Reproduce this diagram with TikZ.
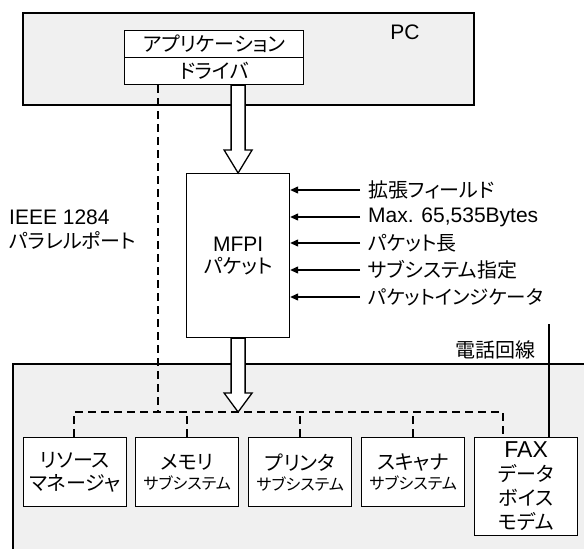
\documentclass[tikz,border=0pt]{standalone}
\usepackage{fontspec}
\setmainfont{Liberation Sans}
\newfontfamily\jpfam{Noto Sans CJK JP}[RawFeature=+palt]
\usetikzlibrary{arrows.meta,calc}
\definecolor{boxgray}{HTML}{F0F0F0}
\newcommand{\lat}{\fontsize{21}{24}\selectfont}
\newcommand{\jpl}{\jpfam\fontsize{20}{24}\selectfont}
\newcommand{\jps}{\jpfam\fontsize{16}{20}\selectfont}
\tikzset{
  frame/.style={draw, line width=1.6pt, fill=boxgray, inner sep=0pt},
  box/.style={draw, line width=1.2pt, fill=white, align=center, inner sep=0pt, font=\fontsize{20}{23}\selectfont},
  txt/.style={inner sep=0pt, align=center, font=\fontsize{20}{24}\selectfont},
  dashline/.style={line width=1.3pt, dash pattern=on 8pt off 5pt},
  inarrow/.style={-{Triangle[length=8pt,width=7pt]}, line width=1.3pt},
  fatarrow/.style={draw, fill=white, line width=1.3pt, line join=miter},
  telline/.style={line width=1.4pt}
}
\begin{document}
\begin{tikzpicture}[x=1pt,y=-1pt]
\useasboundingbox (0,0) rectangle (584,549);
\clip (0,0) rectangle (584,549);
% frames
\node[frame, minimum width=451pt, minimum height=92pt, anchor=north west] (pc) at (22,12) {};
\node[frame, minimum width=600pt, minimum height=250pt, anchor=north west] (dev) at (12,363) {};
\node[txt, anchor=center] (pclabel) at (405,32) {\lat PC};
% application / driver
\node[box, minimum width=179pt, minimum height=27pt, anchor=north west] (app) at (124,30) {\jpl アプリケーション};
\node[box, minimum width=179pt, minimum height=27pt, anchor=north west] (drv) at (124,57) {\jpl ドライバ};
% MFPI
\node[box, font=\fontsize{20}{22}\selectfont, minimum width=103pt, minimum height=164pt, anchor=north west] (mfpi) at (186,173) {\lat MFPI\\\jpl パケット};
% fat arrow PC -> MFPI
\coordinate (t0) at (mfpi.north |- drv.south);
\draw[fatarrow] ($(t0)+(-7,0)$) -- ($(t0)+(7,0)$)
  -- ($(mfpi.north)+(7,-23)$) -- ($(mfpi.north)+(14,-23)$) -- (mfpi.north)
  -- ($(mfpi.north)+(-14,-23)$) -- ($(mfpi.north)+(-7,-23)$) -- cycle;
% input labels
\node[txt, anchor=west] (l1) at (368,190) {\jpl 拡張フィールド};
\node[txt, anchor=west] (l2) at (368,217) {\lat Max. 65,535Bytes};
\node[txt, anchor=west] (l3) at (368,243) {\jpl パケット長};
\node[txt, anchor=west] (l4) at (368,270) {\jpl サブシステム指定};
\node[txt, anchor=west] (l5) at (368,297) {\jpfam\fontsize{19.5}{24}\selectfont パケットインジケータ};
\foreach \n in {l1,l2,l3,l4,l5}
  \draw[inarrow] ([xshift=-8pt]\n.west) -- (\n.west -| mfpi.east);
% IEEE label
\node[txt, align=left, anchor=west] (ieee) at (9,230) {\lat IEEE 1284\\\jpl パラレルポート};
% telephone label
\node[txt, anchor=center] (tellabel) at (495,350) {\jpl 電話回線};
% subsystem boxes
\node[box, minimum width=103pt, minimum height=69pt, anchor=north west] (b1) at (23,437) {\jpl リソース\\\jpl マネージャ};
\node[box, font=\fontsize{20}{20}\selectfont, minimum width=103pt, minimum height=69pt, anchor=north west] (b2) at (135,437) {\jpl メモリ\\\jps サブシステム};
\node[box, font=\fontsize{20}{20}\selectfont, minimum width=103pt, minimum height=69pt, anchor=north west] (b3) at (248,437) {\jpl プリンタ\\\jps サブシステム};
\node[box, font=\fontsize{20}{20}\selectfont, minimum width=103pt, minimum height=69pt, anchor=north west] (b4) at (361,437) {\jpl スキャナ\\\jps サブシステム};
\node[box, font=\fontsize{20}{24}\selectfont, minimum width=103pt, minimum height=98pt, anchor=north west] (b5) at (474,437) {\fontsize{23}{24}\selectfont FAX\\\jpl データ\\\jpl ボイス\\\jpl モデム};
% bus
\coordinate (busL) at (74,412);
\coordinate (busR) at (503,412);
\coordinate (tel) at (549,324);
\coordinate (ieeeTop) at (158,0);
\draw[dashline] (drv.south -| ieeeTop) -- (busL -| ieeeTop);
\draw[dashline] (b1.north -| busL) -- (busL) -- (busR) -- (b5.north -| busR);
\foreach \b in {b2,b3,b4}
  \draw[dashline] (\b.north) -- (\b.north |- busL);
% fat arrow MFPI -> bus
\coordinate (t1) at (mfpi.south |- busL);
\draw[fatarrow] ($(mfpi.south)+(-7,0)$) -- ($(mfpi.south)+(7,0)$)
  -- ($(t1)+(7,-19)$) -- ($(t1)+(14,-19)$) -- (t1)
  -- ($(t1)+(-14,-19)$) -- ($(t1)+(-7,-19)$) -- cycle;
% telephone line
\draw[telline] (tel) -- (tel |- b5.north);
\end{tikzpicture}
\end{document}
